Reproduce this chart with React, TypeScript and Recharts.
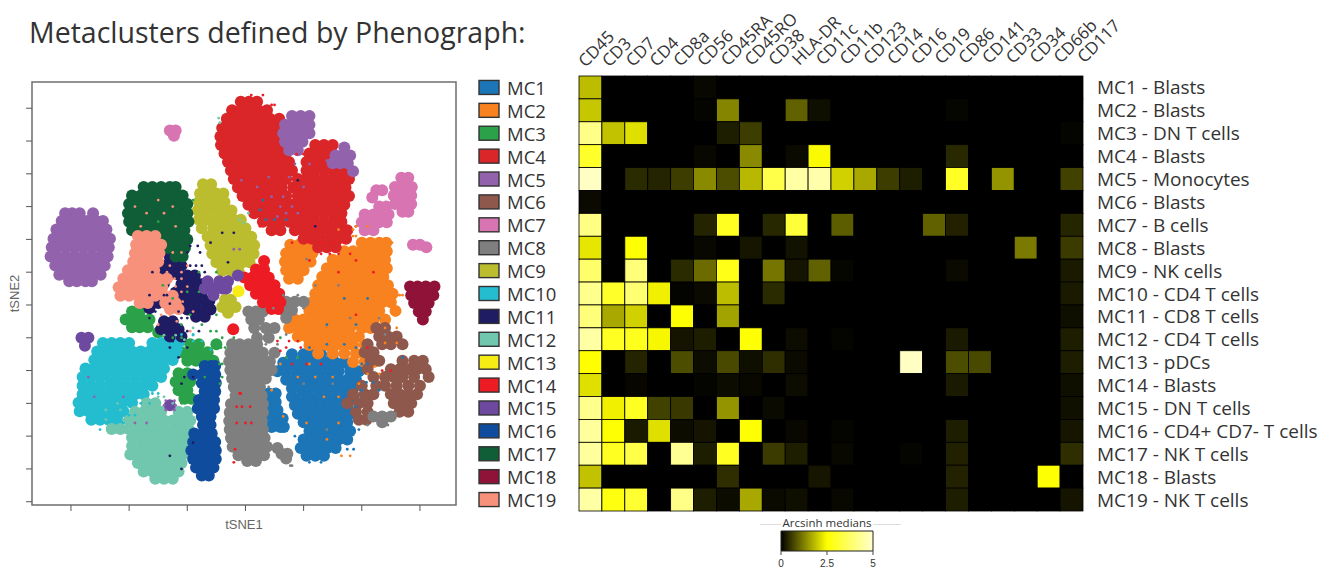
import {
  ScatterChart,
  Scatter,
  BarChart,
  Bar,
  XAxis,
  YAxis,
  ReferenceArea,
} from "recharts";

const markers = ["CD45", "CD3", "CD7", "CD4", "CD8a", "CD56", "CD45RA", "CD45RO", "CD38", "HLA-DR", "CD11c", "CD11b", "CD123", "CD14", "CD16", "CD19", "CD86", "CD141", "CD33", "CD34", "CD66b", "CD117"];
const clusterNames = ["MC1", "MC2", "MC3", "MC4", "MC5", "MC6", "MC7", "MC8", "MC9", "MC10", "MC11", "MC12", "MC13", "MC14", "MC15", "MC16", "MC17", "MC18", "MC19"];
const cellTypes = ["Blasts", "Blasts", "DN T cells", "Blasts", "Monocytes", "Blasts", "B cells", "Blasts", "NK cells", "CD4 T cells", "CD8 T cells", "CD4 T cells", "pDCs", "Blasts", "DN T cells", "CD4+ CD7- T cells", "NK T cells", "Blasts", "NK T cells"];
const clusterColors = ["#1b75b7", "#f8821f", "#2ba24a", "#da2628", "#9263ac", "#8e584c", "#d874b2", "#7f7f7f", "#bbbd2f", "#23bdcf", "#1f1c63", "#70c7ae", "#f7ec13", "#ed1c24", "#6d4aa0", "#0f4c9e", "#0f5e38", "#8f1239", "#f7917c"];

// arcsinh medians, one row per metacluster, one value per marker
const medians = [
  [1.85, 0, 0, 0, 0, 0.08, 0, 0, 0, 0, 0, 0, 0, 0, 0, 0, 0, 0, 0, 0, 0, 0],
  [1.95, 0, 0, 0, 0, 0.05, 1.3, 0, 0, 0.95, 0.15, 0, 0, 0, 0, 0, 0.06, 0, 0, 0, 0, 0],
  [4.15, 1.9, 2.2, 0, 0, 0, 0.28, 0.6, 0, 0, 0, 0, 0, 0, 0, 0, 0, 0, 0, 0, 0, 0.05],
  [3.0, 0, 0, 0, 0, 0.08, 0, 1.35, 0, 0.1, 2.45, 0, 0, 0, 0, 0, 0.4, 0, 0, 0, 0, 0],
  [4.9, 0, 0.42, 0.35, 0.6, 1.35, 0.75, 1.8, 3.4, 4.5, 4.6, 2.05, 1.65, 0.6, 0.28, 0, 2.95, 0, 1.45, 0, 0, 0.65],
  [0.1, 0, 0, 0, 0, 0, 0, 0, 0, 0, 0, 0, 0, 0, 0, 0, 0, 0, 0, 0, 0, 0],
  [4.1, 0, 0, 0, 0, 0.35, 2.9, 0, 0.38, 3.2, 0, 0.9, 0, 0, 0, 0.95, 0.32, 0, 0, 0, 0, 0.36],
  [2.25, 0, 2.55, 0, 0, 0.08, 0, 0.22, 0, 0.18, 0, 0, 0, 0, 0, 0, 0, 0, 0, 1.2, 0, 0.58],
  [3.8, 0, 4.0, 0, 0.42, 1.05, 2.8, 0, 1.15, 0.2, 0.95, 0.06, 0, 0, 0, 0, 0.1, 0, 0, 0, 0, 0.25],
  [4.2, 3.0, 3.9, 2.35, 0.03, 0.1, 1.85, 0, 0.42, 0, 0, 0, 0, 0, 0, 0, 0, 0, 0, 0, 0, 0.25],
  [4.0, 1.65, 2.05, 0, 2.55, 0, 1.6, 0, 0, 0, 0, 0, 0, 0, 0, 0, 0, 0, 0, 0, 0, 0.15],
  [4.5, 2.9, 2.85, 2.42, 0.2, 0.28, 0, 2.55, 0, 0.12, 0, 0.05, 0, 0, 0, 0, 0.25, 0, 0, 0, 0, 0.28],
  [2.5, 0, 0.35, 0, 0.75, 0.12, 0.72, 0.15, 0.45, 0.1, 0, 0, 0, 0, 4.9, 0, 0.75, 0.72, 0, 0, 0, 0.28],
  [2.2, 0, 0.07, 0, 0, 0.05, 0.12, 0.08, 0, 0.12, 0, 0, 0, 0, 0, 0, 0.25, 0, 0, 0, 0, 0.15],
  [4.2, 2.35, 2.9, 0.65, 0.55, 0, 1.45, 0, 0.1, 0, 0, 0, 0, 0, 0, 0, 0, 0, 0, 0, 0, 0.16],
  [4.4, 2.55, 0.25, 2.2, 0.12, 0.2, 0, 2.55, 0, 0.08, 0, 0.05, 0, 0, 0, 0, 0.28, 0, 0, 0, 0, 0.22],
  [4.4, 2.9, 3.4, 0, 4.3, 0.28, 2.9, 0, 0.58, 0.28, 0, 0.08, 0, 0, 0.04, 0, 0.32, 0, 0, 0, 0, 0.45],
  [1.9, 0, 0, 0, 0, 0, 0.45, 0, 0, 0, 0.22, 0, 0, 0, 0, 0, 0.33, 0, 0, 0, 2.55, 0],
  [4.5, 2.7, 3.1, 0, 4.15, 0.28, 0.12, 1.65, 0.1, 0.15, 0, 0.08, 0, 0, 0, 0, 0.28, 0, 0, 0, 0, 0.2],
];

// t-SNE positions: each row is [tSNE2, tSNE1, tSNE1, ...]
type Row = number[];
const mc1: Row[] = [[-7.5,8,10,11.5,13,15],[-8.8,6.5,8,9.5,11,12.5,14,15.5,17],[-10.1,5.5,7,8.5,10,11.5,13,14.5,16,18,19.5],[-11.4,7,8.5,10,11.5,13,14.5,16,17.5,19],[-12.7,8,9.5,11,12.5,14,15.5,17,18.5],[-14,8,9.5,11,12.5,14,15.5,17,18.5],[-15.3,8.5,10,11.5,13,14.5,16,17.5],[-16.6,9,10.5,12,13.5,15,16.5,18],[-17.9,10,11.5,13,14.5,16,17.5],[-19.2,11,12.5,14,15.5,17,18],[-20.5,10,11.5,13,14.5,16,17.5],[-21.8,9.5,11,12.5,14,15.5],[-23,10.5,12,13.5],[-13.5,4,5.2],[-14.8,3.8,5.2],[-16,4,5.5],[-17.3,4.3,5.7,6.4],[-18.6,4.5,6,6.6]];
const mc2: Row[] = [[9.2,7.7,9.2,10.7],[7.9,7,8.5,10,11.5],[6.6,6.8,8.3,9.8,11.2],[5.3,7,8.5,10],[4,7.5,9],[9.5,20,21.5,23,24.2],[8.2,17,18.5,20,21.5,23,24.3],[6.9,15,16.5,18,19.5,21,22.5,24],[5.6,14,15.5,17,18.5,20,21.5,23,24.3],[4.3,13.2,14.7,16.2,17.7,19.2,20.7,22.2,23.7],[3,12.5,14,15.5,17,18.5,20,21.5,23,24.5],[1.7,12,13.5,15,16.5,18,19.5,21,22.5,24,25.3],[0.4,11.5,13,14.5,16,17.5,19,20.5,22,23.5,25],[-0.9,11,12.5,14,15.5,17,18.5,20,21.5,23,25.8],[-2.2,8.5,10,11.5,13,14.5,16,17.5,19,20.5,22,24],[-3.5,7.5,9,10.5,12,13.5,15,16.5,18,20,21.5],[-4.8,9,10.5,12,13.5,15,16.5,18,19.5],[-6.1,11,12.5,14,15.5,17,18.5,20.5],[-7.4,12.5,15,17,19,20.5,22],[-8.7,18.5,20.5,22]];
const mc3: Row[] = [[-1,-19.5,-18.2],[-2.2,-20.6,-19.2,-17.8,-16.5],[-3.4,-19.5,-18.2,-16.8],[-4.2,-15,-13.5],[-6,-9.5,-8,-5],[-7.2,-11,-9.5,-8,-6.5],[-8.5,-10,-8.5,-7,-5.5],[-10.4,-11.5,-10],[-11.7,-12,-10.5,-9.5],[-13,-11.5,-10],[-14.3,-10.5,-9.3]];
const mc4: Row[] = [[31,-0.8,0.6,2],[29.7,-2.3,-0.8,0.7,2.2,3.7],[28.4,-3.2,-1.7,-0.2,1.3,2.8,4.2,5.8],[27,-4,-2.5,-1,0.5,2,3.5,5,6.5],[25.7,-4.3,-2.8,-1.3,0.2,1.7,3.2,4.7,6],[24.4,-4.2,-2.7,-1.2,0.3,1.8,3.3,4.8,6.3,12,13.5,15],[23.1,-3.6,-2.1,-0.6,0.9,2.4,3.9,5.4,6.9,11,12.5,14],[21.8,-3,-1.5,0,1.5,3,4.5,6,7.5,10.5,12,13.5,15],[20.5,-2.5,-1,0.5,2,3.5,5,6.5,8,10.5,12,13.5,15,16.5,17.5],[19.2,-2,-0.5,1,2.5,4,5.5,7,9,10.5,12,13.5,15,16.5,17.8],[17.9,-1.3,0.2,1.7,3.2,4.7,6.2,8.2,9.7,11.2,12.7,14.2,15.7,17.2],[16.6,-0.5,1,2.5,4,5.5,7,9,10.5,12,13.5,15,16.5,17.8],[15.3,0.5,2,3.5,5,6.5,8,9.5,11,12.5,14,15.5,17],[14,1.5,3,4.5,6,7.5,9,10.5,12,13.5,15,16.5],[12.7,3,4.5,6,7.5,9,10.5,12,13.5,15,16.5],[11.4,4.5,6,8.5,10,11.5,13,14.5,16,17.5],[10.1,10,11.5,13,14.5,16,17.3],[8.8,12.5,14,15.5]];
const mc5: Row[] = [[14,-31,-29.8,-28.5,-26.2],[12.8,-31.6,-30.2,-28.7,-27.2,-25.7,-24.5],[11.5,-32.5,-31.2,-29.7,-28.2,-26.7,-25.2,-23.9],[10.1,-33,-32,-30.5,-29,-27.5,-26,-24.5,-23.3],[8.8,-33.3,-32.3,-30.8,-29.3,-27.8,-26.3,-24.8,-23.5],[7.4,-33.5,-32.5,-31,-29.5,-28,-26.5,-25,-23.7],[6,-32.7,-31.5,-30,-28.5,-27,-25.5,-24.2],[4.6,-32,-30.8,-29.3,-27.8,-26.3,-24.9],[3.6,-30.3,-29,-27.5,-26.4],[28.8,8,9.5,11],[27.5,6.8,8.3,9.8,11],[26.2,6.5,8,9.5,11],[24.9,6.8,8.3,9.8],[23.6,7.5,9],[24,17],[22.8,15.5,16.8,18],[21.6,15,16.3,17.6],[20.4,18.5]];
const mc6: Row[] = [[-3.5,22.5,24],[-4.8,23,24.5,26],[-6,21,23.5,25,27],[-7.2,20.5,22],[-8.5,21.5,23,27,29,30.5],[-9.8,21,25,26.5,28,29.5,31],[-11,22,24,25.5,27,29,31.5],[-12.3,20,22.5,24,26,28,30],[-13.6,18.5,20.5,22,25,26.5,28,29.5],[-15,17.5,19.5,21,25.5,27,28.5],[-16.3,19,21,26.5,28],[-17.5,19.5,20.8]];
const mc7: Row[] = [[19.4,26.8,28],[18,25.7,27.2,28.6],[16.7,25.5,27,28.5],[15.4,25.7,27.2,28.5],[14.2,27,28],[15,23,24.2],[13.8,20.5,22,23.5,24.6],[12.6,20,21.5,23,24.3],[11.4,20.5,22],[17.5,22.5,23.5],[16.4,21.8],[9.2,28.8,30],[8.8,31.1],[26.6,-13,-12],[25.8,-12.3]];
const mc8: Row[] = [[-1,0.5,1.8,3],[-2.2,1,2.3],[0.5,7,8.5,10],[-0.8,6.5,8],[-2,7],[-3.5,1.5,3.5,5],[-5,2,4],[-6,-2.3,-1,0.5,2],[-7.3,-2.6,-1.5,0,1.5,3,5],[-8.6,-2.8,-1.7,-0.2,1.3,2.8,4.2],[-9.9,-2.6,-1.5,0,1.5,3,4.5],[-11.2,-2.3,-1,0.5,2,3.5],[-12.5,-2,-0.5,1,2.5],[-13.8,-1.7,-0.2,1.3,2.8],[-15.1,-2.5,-1,0.5,2,3],[-16.4,-2.7,-1.5,0,1.5,3],[-17.7,-2.8,-1.7,-0.2,1.3,2.8],[-19,-2.7,-1.5,0,1.5,3],[-20.3,-2.5,-1.2,0.3,1.8,3.3],[-21.6,-2.2,-0.7,0.8,2.3,3.7],[-22.9,-1.2,0.3,1.8,3.2],[-23.8,0.3,1.8],[-21.8,5.5],[-22.7,6.2,7.2],[-23.4,7],[-17,22,23.5,25],[-17.9,23.5]];
const mc9: Row[] = [[18.4,-7.3,-5.9],[17,-7.8,-6.4,-5,-3.8],[15.7,-8,-6.5,-5,-3.6],[14.4,-8.2,-6.8,-5.3,-3.8,-2.4],[13,-8,-6.5,-5,-3.5,-2,-0.8],[11.7,-7.5,-5.5,-4,-2.5,-1,0],[10.4,-6.5,-5,-3.5,-2,-0.5,1],[9.1,-6,-4.5,-3,-1.5,0,1.5],[7.8,-5.7,-4.2,-2.7,-1.2,0.3,1.4],[6.5,-5,-3.5,-2,-0.5,0.7],[5.2,-4,-2.5,-1.2],[0.8,-3.5,-2.5],[-0.3,-4,-2.8,-1.7],[-1.2,-3]];
const mc10: Row[] = [[-5.8,-24.5,-23,-21.5,-20,-16,-14.5,-13,-11.5],[-7.1,-25.5,-24,-22.5,-21,-19.5,-18,-16.5,-15,-13.5,-12],[-8.4,-26,-24.5,-23,-21.5,-20,-18.5,-17,-15.5,-14,-12.5],[-9.7,-27.5,-26,-24.5,-23,-21.5,-20,-18.5,-17,-15.5,-14],[-11,-28,-26.5,-25,-23.5,-22,-20.5,-19,-17.5,-16,-14.5],[-12.3,-28,-26.5,-25,-23.5,-22,-20.5,-19,-17.5,-16],[-13.6,-28,-26.5,-25,-23.5,-22,-20.5,-19,-17.5],[-14.9,-28.7,-27.2,-25.7,-24.2,-22.7,-21.2,-19.5],[-16.2,-28.5,-27,-25.5,-24,-22.5,-21],[-17.5,-26.5,-25,-23.5,-22]];
const mc11: Row[] = [[4.5,-10,-8.7],[3.2,-11,-9.5,-8,-7.2],[1.9,-12,-10.5,-9,-7.5],[0.6,-11.5,-10,-8.5,-7,-6.2],[-0.7,-10,-8.5,-7,-6],[-1.8,-8.5,-7],[7.3,-13,-11.5],[6,-14,-12.5,-11],[4.7,-14.7,-13,-11.7],[3.3,-14],[-2.5,-14,-12.5],[-3.7,-14.5,-13,-11.5],[-4.8,-13,-11],[0.3,-16,-15],[-0.5,-16.5]];
const mc12: Row[] = [[-15,-17,-15.5],[-16.3,-19,-17.5,-16,-14.5,-11.5,-10],[-17.6,-20,-18.5,-17,-15.5,-14,-12.5,-11,-9.5],[-18.9,-23,-21.5,-20,-18.5,-17,-15.5,-14,-12.5,-11,-9.8],[-20.2,-19.5,-18,-16.5,-15,-13.5,-12,-10.5],[-21.5,-19.5,-18,-16.5,-15,-13.5,-12,-10.8],[-22.8,-19.8,-18.3,-16.8,-15.3,-13.8,-12.3,-10.8],[-24.1,-18.5,-17,-15.5,-14,-12.5,-11],[-25.4,-17.5,-16,-14.5,-13,-11.5],[-26.5,-15.5,-14,-12.5]];
const mc13: Row[] = [[2.1,-1.2]];
const mc14: Row[] = [[6.7,3.2],[5.4,1.8,3.2],[4.2,-0.2,1.2,2.7,4],[3,0.8,2.2,3.7,5],[1.7,1.8,3.3,4.8,5.8],[0.4,3,4.5,6],[-0.6,4.5,5.6],[-3.7,-2.1]];
const mc15: Row[] = [[-5,-28.2,-27],[-6.2,-27.6],[3.6,-6.5,-4.5,-3],[2.5,-7,-5.5,-4,-3.3],[1.5,-5.5],[4.5,-1.3],[-15.3,-13]];
const mc16: Row[] = [[-9.3,-7,-5.9,-5.2],[-10.6,-9,-7.5,-6.2,-5.2],[-11.9,-7.5,-6,-5.1],[-13.2,-7,-6,-5.2],[-14.5,-8,-6.5,-5.4],[-15.8,-8.2,-6.7,-5.4],[-17,-7.5,-6],[-18.3,-7.3,-6],[-19.6,-8.8,-7.3,-5.8],[-20.9,-9,-7.5,-6.2,-5.2],[-22.2,-9.3,-7.8,-6.4,-5.1],[-23.5,-9,-7.5,-6.2,-5.1],[-24.8,-8.5,-7,-5.5],[-26,-7.5,-6.3]];
const mc17: Row[] = [[18,-17.5,-16,-14.5,-13,-12],[16.7,-19.5,-18,-16.5,-15,-13.5,-12,-10.8],[15.4,-20,-18.5,-17,-15.5,-14,-12.5,-11,-10],[14,-20.2,-18.8,-17.3,-15.8,-14.3,-12.8,-11.3,-10],[12.7,-20,-18.5,-17,-15.5,-14,-12.5,-11,-9.8],[11.4,-19.5,-18,-16.5,-15,-13.5,-12,-10.5],[10,-17,-14,-12.6,-11.1,-10],[8.7,-13.2,-11.8,-10.4],[7.4,-12,-10.8]];
const mc18: Row[] = [[2.8,28.3,29.6,31,32.5],[1.5,28.5,30,31.3,32.3],[0.3,29,30.3,31.5],[-1,29.8,31],[-2.2,30.5]];
const mc19: Row[] = [[10.5,-18.5,-17,-15.5],[9.2,-18.8,-17.3,-15.8,-14.5],[7.9,-19,-17.5,-16,-14.8],[6.6,-19.3,-17.8,-16.3,-15],[5.3,-20.2,-18.7,-17.2,-15.7],[4,-21,-19.5,-18,-16.5,-15,-13.5],[2.7,-21.8,-20.3,-18.8,-17.3,-15.8,-14.3],[1.4,-21.5,-20,-18.5,-17,-15.5,-14,-12.5],[0.3,-18.2,-16.8,-13.8,-12],[-0.6,-13,-11.5]];
const clusterRows = [mc1, mc2, mc3, mc4, mc5, mc6, mc7, mc8, mc9, mc10, mc11, mc12, mc13, mc14, mc15, mc16, mc17, mc18, mc19];

// isolated cells: inside other islands and in the loose fringes around them
const strayRed: Row[] = [[-9,8,10.5,13],[-6.5,7,9.5,21],[-15.5,-1.5,0.8,-0.6],[-18,0,-1.5,1],[-13.5,-1,-0.8],[-22,-1.8],[-24,-2],[-10,23.5,25],[5,16,22],[-1.5,19],[9.5,8,11,13,15,17],[7.8,13,14.5,16,18],[6.8,11,19],[12,2.5,19],[23,10,8.8],[32,1,3],[30.5,5,4.5],[-5.5,5.5,7.5,9],[-7,6]];
const strayOrange: Row[] = [[-11,9,12,15],[-14,16,13.5],[-18,10.5,16],[-20.5,14],[-9,6,11],[12,19,21],[10.5,18.5,19],[-13,4.5],[-17,6.5],[-10.5,21,23],[-12,19.5],[-23,16.5,18],[11.5,16,18.5],[-5.8,24,26],[9.5,25.2],[1.5,27,26.5],[-3.5,24,26]];
const strayBlue: Row[] = [[1,17,21],[-3,14,19],[-6,17,14],[13,5,7],[16,3],[-8,27],[-13,20,23],[-6.5,11,19],[-9,20,21],[-11.8,20.8,22],[-15.5,19],[-19,19.5],[-22,17.5,18.6],[14.5,2.5],[13,3.5],[-24,11,13],[-20,8.5]];
const strayGray: Row[] = [[3,12,16],[-2,18,23],[-4.5,24],[7,10.5],[-12,10,15],[-19,14],[1.5,6.5,9],[-0.5,4.8,10],[-4.5,7],[-6,3.5,5.5],[-12.5,4],[-24.5,7.7,8],[-16.5,25.8],[-18.3,24.5,21]];
const strayNavy: Row[] = [[9.5,-6],[11,-2,-4],[6.5,-3],[-11,-9,-10.5],[-12,-11],[-4,-8,-10],[-21,-9],[-25,-11],[12,12],[19,9],[-23,-13],[9,-9.5,-8.2],[8,-10,-7.8],[6,-9.5,-8.5,-7.5],[5,-16,-7],[1.5,-14,-16.5,-13.5],[0.2,-13],[-1,-15.5,-11.5],[-2,-16.5,-11,-10],[-5.5,-12.5,-10.5],[-6.5,-10,-13],[-8,-11.5]];
const strayGreen: Row[] = [[5,-8,-5],[2,-10,-8],[-5,-2,6],[-8,7,9],[-3,-11,-7.5],[16,-9],[12.7,-15],[-11,-7,-4],[-5,-12.5,-11,-4],[-4,-6,-5],[-6.5,-4.2,-3.5],[-9,-4.5,-4],[-12,-4.4],[-15,-11],[3,-14.2],[1,-12.5],[-1.5,-9.5,-5]];
const straySalmon: Row[] = [[14,-17,-14],[16,-15],[12,-18,-12],[8,-11,-12.5],[5,-11,-13.5],[-1,-9,-11],[-3,-15],[2.8,-10,-12],[6,-13,-10],[4,-12.2,-11],[2,-13,-11],[0.5,-13.5,-10.8],[-1.5,-14.5,-13],[-2.5,-11.8],[-4,-9.5],[15,-19,-12.5],[11,-15.5,-17.5]];
const strayPurple: Row[] = [[18,2,10],[15,6,8],[22,14],[13.5,5.5],[19,-0.7],[8.5,-2,-1],[-14,-26,-21],[-18,-17,-19],[-11,-27],[21.5,8.5,11],[19.5,7.5,4],[16.5,6.5,4.5],[14,7,9],[-14.6,-13.7,-12.2],[-16,-13.7,-12.2],[-15.3,-14,-12]];
const strayTeal: Row[] = [[28.5,-4.6],[27.8,-4.4],[13,-1],[-14,-15,-14],[-3.5,-9],[-4.6,-14,-12,-9],[-5.3,-10.5],[-15,-12.5,-22],[-16,-21.5,-24],[-17.5,-21,-24],[14,0.5],[12.5,-0.3]];
const strayCyan: Row[] = [[-4.5,-11,-9],[-5.5,-9,-7.5],[-6.8,-11,-6],[-13.5,-16,-15],[-15,-18,-16.5],[-16.8,-19,-20],[-18,-24,-21],[-19,-25]];
const strayColors = ["#ed1c24", "#f8821f", "#1b75b7", "#7f7f7f", "#1f1c63", "#2ba24a", "#f7917c", "#9263ac", "#70c7ae", "#23bdcf"];
const strayRows = [strayRed, strayOrange, strayBlue, strayGray, strayNavy, strayGreen, straySalmon, strayPurple, strayTeal, strayCyan];

const tsne1Ticks = [-30, -20, -10, 0, 10, 20, 30];
const tsne2Ticks = [-30, -25, -20, -15, -10, -5, 0, 5, 10, 15, 20, 25, 30];
const colorbarTicks = [0, 2.5, 5];

const FONT = "'Open Sans', sans-serif";
const INK = "#333";

const toPoints = (rows: Row[]) =>
  rows.flatMap(([y, ...xs]) => xs.map((x) => ({ x, y })));

const heatCells = medians.flatMap((row, r) =>
  row.map((value, c) => ({ col: c, row: r + 1, value }))
);

// black -> yellow at 2.5 -> pale yellow at 5
function heatColor(v: number) {
  if (v <= 2.5) {
    const c = Math.round((v / 2.5) * 255);
    return `rgb(${c},${c},0)`;
  }
  return `rgb(255,255,${Math.round(((v - 2.5) / 2.5) * 204)})`;
}

const Blob = (p: any) => <circle cx={p.cx} cy={p.cy} r={6} fill={p.fill} />;
const Fleck = (p: any) => <circle cx={p.cx} cy={p.cy} r={1.4} fill={p.fill} />;
const NoMark = () => <g />;

const HeatCell = (p: any) => (
  <rect
    x={p.cx - 11.45}
    y={p.cy - 11.45}
    width={22.9}
    height={22.9}
    fill={heatColor(p.payload.value)}
    stroke="#000"
    strokeWidth={0.8}
  />
);

const MarkerTick = ({ x, y, payload }: any) => {
  const px = x - 5 + payload.value * 0.85;
  const py = y - 8 - payload.value * 0.2;
  return (
    <text x={px} y={py} transform={`rotate(-45 ${px} ${py})`} fontFamily={FONT} fontSize={17} fill={INK}>
      {markers[payload.value]}
    </text>
  );
};

const LegendTick = ({ x, y, payload }: any) => {
  const i = payload.value - 1;
  return (
    <g>
      <rect x={x - 100} y={y - 7} width={20} height={14} fill={clusterColors[i]} stroke="#333" strokeWidth={1.4} />
      <text x={x - 72} y={y} dominantBaseline="central" fontFamily={FONT} fontSize={18.5} fill={INK}>
        {clusterNames[i]}
      </text>
    </g>
  );
};

const TypeTick = ({ x, y, payload }: any) => {
  const i = payload.value - 1;
  return (
    <text x={x + 14} y={y} dominantBaseline="central" fontFamily={FONT} fontSize={19} fill={INK}>
      {`${clusterNames[i]} - ${cellTypes[i]}`}
    </text>
  );
};

function TsnePlot() {
  const axisFont = { fontFamily: "'Liberation Sans', sans-serif", fontSize: 13, fill: "#666" };
  return (
    <ScatterChart width={470} height={540} margin={{ top: 82, right: 14, bottom: 0, left: 0 }}>
      <XAxis
        type="number"
        dataKey="x"
        domain={[-36.7, 36.2]}
        ticks={tsne1Ticks}
        interval={0}
        height={35}
        axisLine={false}
        tickSize={6}
        tickLine={{ stroke: "#555" }}
        tickFormatter={() => ""}
        label={{ value: "tSNE1", position: "insideBottom", offset: 11, ...axisFont }}
      />
      <YAxis
        type="number"
        dataKey="y"
        domain={[-30.5, 34]}
        ticks={tsne2Ticks}
        interval={0}
        width={32}
        axisLine={false}
        tickSize={6}
        tickLine={{ stroke: "#555" }}
        tickFormatter={() => ""}
        label={{ value: "tSNE2", angle: -90, position: "insideLeft", offset: 14, textAnchor: "middle", ...axisFont }}
      />
      {clusterRows.map((rows, i) => (
        <Scatter
          key={clusterNames[i]}
          name={clusterNames[i]}
          data={toPoints(rows)}
          fill={clusterColors[i]}
          shape={Blob}
          isAnimationActive={false}
        />
      ))}
      {strayRows.map((rows, i) => (
        <Scatter
          key={strayColors[i]}
          data={toPoints(rows)}
          fill={strayColors[i]}
          shape={Fleck}
          isAnimationActive={false}
        />
      ))}
      <ReferenceArea x1={-36.7} x2={36.2} y1={-30.5} y2={34} fillOpacity={0} stroke="#6e6e6e" strokeWidth={1.5} />
    </ScatterChart>
  );
}

function Heatmap() {
  return (
    <ScatterChart width={862} height={576} margin={{ top: 0, right: 0, bottom: 65, left: 0 }}>
      <XAxis
        xAxisId="m"
        orientation="top"
        type="number"
        dataKey="col"
        domain={[-0.5, 21.5]}
        ticks={markers.map((_, i) => i)}
        interval={0}
        height={76}
        axisLine={false}
        tickLine={false}
        tickSize={0}
        tickMargin={0}
        tick={MarkerTick}
      />
      <YAxis
        yAxisId="m"
        type="number"
        dataKey="row"
        domain={[0.5, 19.5]}
        reversed
        ticks={clusterNames.map((_, i) => i + 1)}
        interval={0}
        width={109}
        axisLine={false}
        tickLine={false}
        tickSize={0}
        tickMargin={0}
        tick={LegendTick}
      />
      <YAxis
        yAxisId="t"
        orientation="right"
        type="number"
        dataKey="row"
        domain={[0.5, 19.5]}
        reversed
        ticks={clusterNames.map((_, i) => i + 1)}
        interval={0}
        width={249}
        axisLine={false}
        tickLine={false}
        tickSize={0}
        tickMargin={0}
        tick={TypeTick}
      />
      <Scatter xAxisId="m" yAxisId="t" data={heatCells} shape={NoMark} isAnimationActive={false} />
      <Scatter xAxisId="m" yAxisId="m" data={heatCells} shape={HeatCell} isAnimationActive={false} />
    </ScatterChart>
  );
}

function Colorbar() {
  return (
    <BarChart
      width={132}
      height={50}
      layout="vertical"
      data={[{ name: "Arcsinh medians", low: 0, high: 5 }]}
      margin={{ top: 6, right: 20, bottom: 0, left: 20 }}
      barCategoryGap={0}
    >
      <defs>
        <linearGradient id="arcsinh" x1="0" y1="0" x2="1" y2="0">
          {[0, 1.25, 2.5, 3.75, 5].map((v) => (
            <stop key={v} offset={v / 5} stopColor={heatColor(v)} />
          ))}
        </linearGradient>
      </defs>
      <XAxis
        type="number"
        domain={[0, 5]}
        ticks={colorbarTicks}
        interval={0}
        height={24}
        axisLine={false}
        tickSize={4}
        tickMargin={5}
        tickLine={{ stroke: "#444" }}
        tick={{ fontFamily: "'Liberation Sans', sans-serif", fontSize: 10, fill: "#333" }}
      />
      <YAxis type="category" dataKey="name" hide />
      <Bar dataKey="high" fill="url(#arcsinh)" stroke="#222" strokeWidth={1} isAnimationActive={false} />
    </BarChart>
  );
}

export default function App() {
  return (
    <div style={{ position: "absolute", left: 0, top: 0, width: 1332, height: 576, overflow: "hidden", background: "#fff" }}>
      <div style={{ position: "absolute", left: 29, top: 13, fontFamily: FONT, fontSize: 28.5, color: INK, whiteSpace: "nowrap" }}>
        Metaclusters defined by Phenograph:
      </div>
      <div style={{ position: "absolute", left: 0, top: 0 }}>
        <TsnePlot />
      </div>
      <div style={{ position: "absolute", left: 579, top: 76, width: 504, height: 435, background: "#000" }} />
      <div style={{ position: "absolute", left: 470, top: 0 }}>
        <Heatmap />
      </div>
      <div style={{ position: "absolute", left: 760, top: 524, width: 141, borderTop: "1px solid #ddd" }} />
      <div style={{ position: "absolute", left: 781, top: 515, width: 92, textAlign: "center", fontFamily: FONT, fontSize: 11.5, color: INK, background: "#fff", lineHeight: "16px", whiteSpace: "nowrap" }}>
        Arcsinh medians
      </div>
      <div style={{ position: "absolute", left: 761, top: 525 }}>
        <Colorbar />
      </div>
    </div>
  );
}
